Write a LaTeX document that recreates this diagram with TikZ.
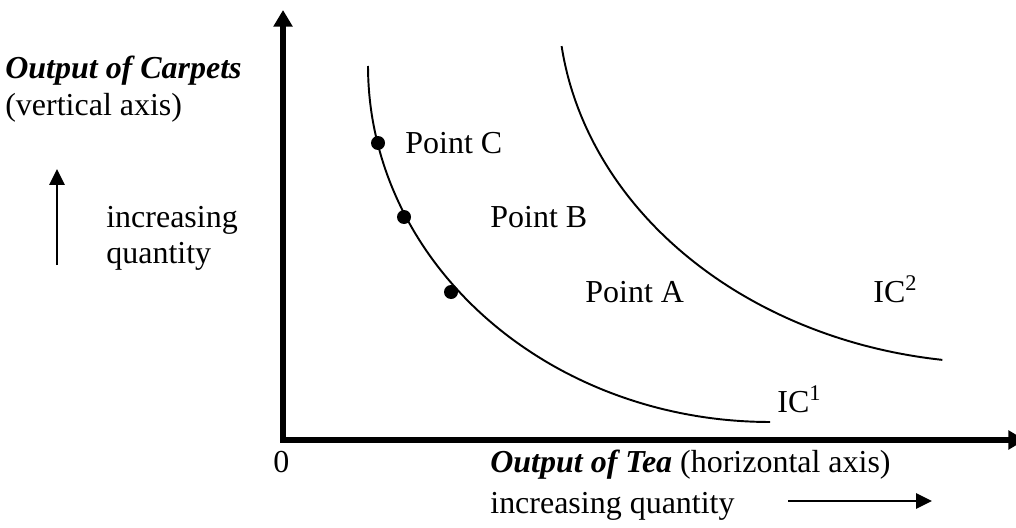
\documentclass[tikz,border=0pt]{standalone}
\usepackage{fontspec}
\setmainfont{Liberation Serif}
\usetikzlibrary{arrows.meta, positioning}
\tikzstyle{axis} = [draw, line width=3.4pt, line join=miter, {Triangle[length=9.5pt,width=10.5pt]}-{Triangle[length=9.5pt,width=10.5pt]}]
\tikzstyle{hint} = [draw, line width=1.3pt, -{Triangle[length=9pt,width=8.5pt]}]
\tikzstyle{curve} = [draw, line width=1.1pt]
\tikzstyle{dot} = [circle, fill=black, inner sep=0pt, minimum size=0.28cm]
\tikzstyle{txt} = [inner sep=0pt, anchor=base west, font=\fontsize{18.2}{21}\selectfont]

\begin{document}
\begin{tikzpicture}[x=0.02cm, y=-0.02cm]
        \useasboundingbox (0,0) rectangle (1016,527);
        % Ejes
        \coordinate (ytip) at (283,10);
        \coordinate (origin) at (283,440);
        \coordinate (xtip) at (1025,440);
        \path [axis] (ytip) -- (origin) -- (xtip);

        % Curvas de indiferencia (arcos de elipse)
        \path [curve] plot [domain=0:90, samples=80, smooth] ({770-402*cos(\x)}, {66+356*sin(\x)});
        \path [curve] plot [domain=7.3:82.5, samples=80, smooth] ({1000-442*cos(\x)}, {363*sin(\x)});

        % Puntos
        \node [dot] (ptC) at (378,143) {};
        \node [dot] (ptB) at (404,217) {};
        \node [dot] (ptA) at (451,292) {};
        \node [txt] (labC) at (405,153) {Point C};
        \node [txt] (labB) at (490,227) {Point B};
        \node [txt] (labA) at (585,302) {Point A};
        \node [txt] (ic2) at (873,302) {IC\textsuperscript{2}};
        \node [txt] (ic1) at (777,412) {IC\textsuperscript{1}};

        % Eje vertical
        \node [txt] (ylab) at (5,78) {\textbf{\textit{Output of Carpets}}};
        \node [txt] (ysub) at (5,115) {(vertical axis)};
        \node [txt] (yinc) at (106,227) {increasing};
        \node [txt] (yqty) at (106,263) {quantity};
        \coordinate (yup0) at (57,265);
        \coordinate (yup1) at (57,169);
        \path [hint] (yup0) -- (yup1);

        % Eje horizontal
        \node [txt] (zero) at (273,472) {0};
        \node [txt] (xlab) at (490,472) {\textbf{\textit{Output of Tea}} (horizontal axis)};
        \node [txt] (xinc) at (490,513) {increasing quantity};
        \coordinate (xr0) at (788,501);
        \coordinate (xr1) at (932,501);
        \path [hint] (xr0) -- (xr1);
    \end{tikzpicture}
\end{document}
